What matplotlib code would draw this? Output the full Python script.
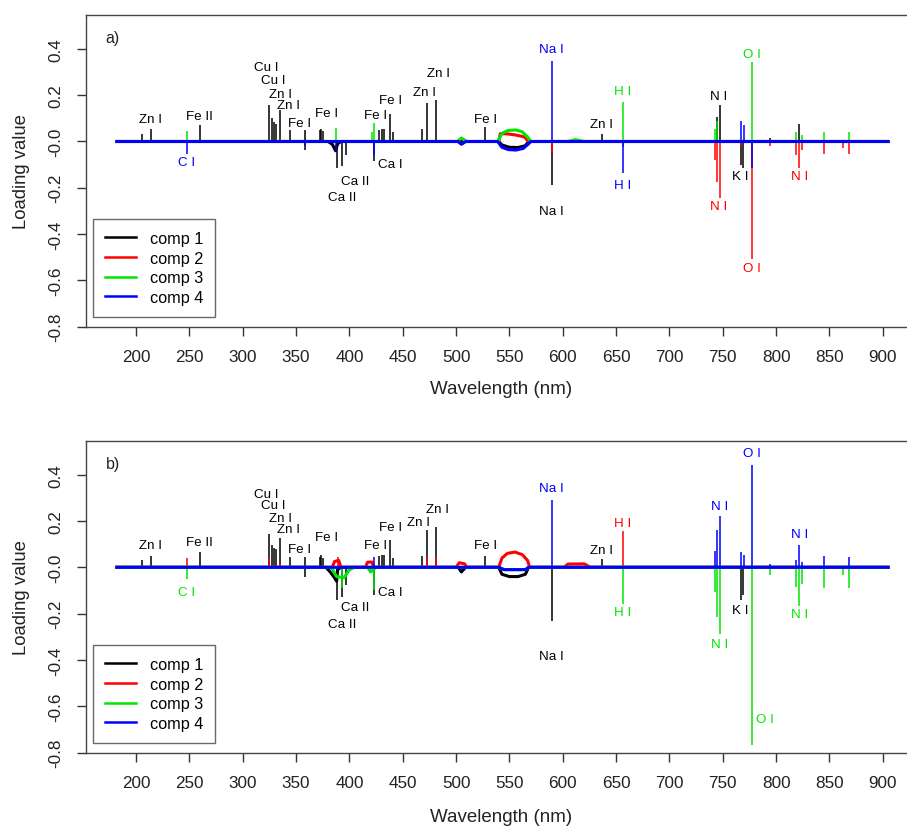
import numpy as np
import matplotlib
matplotlib.use("Agg")
import matplotlib.pyplot as plt
from matplotlib.lines import Line2D

plt.rcParams['font.family'] = ['Liberation Sans', 'DejaVu Sans']
plt.rcParams['axes.unicode_minus'] = False

comp_names = ['comp 1', 'comp 2', 'comp 3', 'comp 4']
comp_colors = ['#000000', '#ff0000', '#00e600', '#0000ff']

wl_start, wl_end = 182, 905

# --- panel a: slowly varying baselines (wavelength, loading) ---
a_base_comp1 = [(182, 0), (380, 0), (384, -0.012), (387, -0.04), (389, -0.01), (392, 0),
                (540, 0), (543, -0.015), (550, -0.025), (558, -0.026), (565, -0.018), (568, 0), (905, 0)]
a_base_comp2 = [(182, 0), (502, 0), (505, -0.01), (509, 0), (540, 0), (541.5, 0.034), (548, 0.033),
                (556, 0.028), (564, 0.02), (568, 0), (905, 0)]
a_base_comp3 = [(182, 0), (501, 0), (505, 0.015), (510, 0), (539, 0), (543, 0.035), (549, 0.048),
                (556, 0.05), (562, 0.042), (567, 0.02), (570, 0), (605, 0), (612, 0.008), (620, 0), (905, 0)]
a_base_comp4 = [(182, 0), (502, 0), (505, -0.012), (509, 0), (539, 0), (543, -0.025), (549, -0.035),
                (556, -0.037), (563, -0.03), (568, -0.01), (570, 0), (905, 0)]

# --- panel a: emission line loadings (wavelength, loading) ---
a_peaks_comp1 = [(206, 0.034), (214, 0.056), (260, 0.07), (324.7, 0.156), (327.4, 0.103), (329, 0.085),
                 (331, 0.077), (334.8, 0.135), (344.6, 0.049), (358.1, 0.049), (358.6, -0.037),
                 (372.5, 0.05), (373.7, 0.056), (375, 0.045), (388.4, -0.116), (392.8, -0.108),
                 (396.6, -0.059), (422.9, -0.083), (427.5, 0.049), (430.5, 0.052), (432.5, 0.052),
                 (438.2, 0.12), (440.6, 0.042), (468.5, 0.056), (472.6, 0.166), (481.3, 0.181),
                 (527.5, 0.063), (589.7, -0.188), (636.6, 0.034), (744.3, 0.106), (747.5, 0.156),
                 (766.8, -0.10), (769.3, -0.116), (794.4, 0.015), (821.8, 0.077)]
a_peaks_comp2 = [(335, 0.01), (589.7, -0.05), (656.3, -0.023), (742.8, -0.08), (744.3, -0.173),
                 (747.5, -0.245), (767, -0.02), (777.5, -0.51), (794.4, -0.02), (818.7, -0.059),
                 (821.8, -0.116), (824, -0.037), (845, -0.052), (862.5, -0.03), (868.4, -0.052)]
a_peaks_comp3 = [(248, 0.047), (387.5, 0.06), (421, 0.04), (423, 0.08), (656.3, 0.171), (742.8, 0.056),
                 (744.3, 0.09), (777.5, 0.343), (818.7, 0.039), (824, 0.03), (845, 0.042), (868.4, 0.039)]
a_peaks_comp4 = [(248, -0.052), (358, -0.02), (387, -0.04), (422.6, -0.06), (589.7, 0.35),
                 (656.3, -0.138), (766.8, 0.088), (770.2, 0.073), (777.5, -0.116)]

# --- panel b ---
b_base_comp1 = [(182, 0), (378, 0), (382, -0.02), (386, -0.045), (388, -0.06), (389, -0.01), (392, 0),
                (502, 0), (505, -0.02), (509, 0), (540, 0), (543, -0.03), (550, -0.04), (558, -0.04),
                (565, -0.03), (568, 0), (905, 0)]
b_base_comp2 = [(182, 0), (384, 0), (386, 0.025), (390, 0.03), (392, 0), (415, 0), (417, 0.022),
                (421, 0.023), (423, 0), (500, 0), (503, 0.02), (508, 0.015), (510, 0), (540, 0),
                (543, 0.04), (548, 0.06), (555, 0.066), (562, 0.055), (567, 0.03), (569, 0),
                (601, 0), (605, 0.014), (620, 0.015), (626, 0), (905, 0)]
b_base_comp3 = [(182, 0), (383, 0), (388, -0.04), (395, -0.045), (400, -0.01), (405, 0), (417, 0),
                (420, -0.02), (425, 0), (540, 0), (545, -0.01), (565, -0.01), (568, 0), (905, 0)]
b_base_comp4 = [(182, 0), (540, 0), (545, -0.01), (565, -0.01), (568, 0), (905, 0)]

b_peaks_comp1 = [(206, 0.03), (214, 0.049), (260, 0.066), (324.7, 0.145), (327.4, 0.098), (329, 0.084),
                 (331, 0.078), (334.8, 0.128), (344.6, 0.045), (358.1, 0.045), (358.6, -0.041),
                 (372.5, 0.045), (373.7, 0.052), (375, 0.04), (388.4, -0.142), (392.8, -0.128),
                 (396.6, -0.075), (422.9, -0.121), (427.5, 0.049), (430.5, 0.052), (432.5, 0.052),
                 (438.2, 0.12), (440.6, 0.04), (468.5, 0.049), (472.6, 0.16), (481.3, 0.174),
                 (527.5, 0.049), (589.7, -0.233), (636.6, 0.038), (766.8, -0.142), (769.3, -0.121)]
b_peaks_comp2 = [(248, 0.042), (324.7, 0.04), (334.8, 0.02), (389.5, 0.045), (472.6, 0.045),
                 (481.3, 0.045), (656.3, 0.155)]
b_peaks_comp3 = [(248, -0.049), (393.4, -0.09), (422.9, -0.099), (656.3, -0.157), (742.8, -0.106),
                 (744.3, -0.214), (747.5, -0.286), (777.5, -0.768), (794.4, -0.035), (818.7, -0.085),
                 (821.8, -0.165), (824, -0.07), (845, -0.089), (862.5, -0.035), (868.4, -0.089)]
b_peaks_comp4 = [(422.6, 0.045), (589.7, 0.289), (742.8, 0.069), (744.3, 0.16), (747.5, 0.222),
                 (766.8, 0.066), (770.2, 0.052), (777.5, 0.443), (794.4, 0.015), (818.7, 0.03),
                 (821.8, 0.095), (824, 0.025), (845, 0.047), (868.4, 0.045)]

# line labels: (text, wavelength, loading, component index)
a_labels = [('Zn I', 213.1, 0.099, 0), ('Fe II', 259.3, 0.109, 0), ('C I', 247.5, -0.088, 3),
            ('Cu I', 321.9, 0.324, 0), ('Cu I', 328.7, 0.267, 0), ('Zn I', 335.7, 0.206, 0),
            ('Zn I', 342.8, 0.159, 0), ('Fe I', 353.1, 0.082, 0), ('Fe I', 378.8, 0.125, 0),
            ('Ca II', 405.3, -0.171, 0), ('Ca II', 392.8, -0.241, 0), ('Fe I', 424.7, 0.116, 0),
            ('Fe I', 438.8, 0.178, 0), ('Ca I', 438.8, -0.099, 0), ('Zn I', 470.0, 0.216, 0),
            ('Zn I', 483.4, 0.295, 0), ('Fe I', 527.2, 0.097, 0), ('Na I', 589.7, 0.40, 3),
            ('Na I', 589.7, -0.30, 0), ('Zn I', 636.0, 0.075, 0), ('H I', 656.3, 0.218, 2),
            ('H I', 656.3, -0.189, 3), ('N I', 746.5, 0.197, 0), ('N I', 746.5, -0.281, 1),
            ('K I', 766.2, -0.149, 0), ('O I', 777.2, 0.379, 2), ('O I', 777.2, -0.546, 1),
            ('N I', 821.8, -0.149, 1)]
b_labels = [('Zn I', 213.1, 0.095, 0), ('Fe II', 259.3, 0.11, 0), ('C I', 247.5, -0.106, 2),
            ('Cu I', 321.9, 0.318, 0), ('Cu I', 328.7, 0.268, 0), ('Zn I', 335.7, 0.213, 0),
            ('Zn I', 342.8, 0.164, 0), ('Fe I', 353.1, 0.081, 0), ('Fe I', 378.8, 0.131, 0),
            ('Ca II', 405.3, -0.171, 0), ('Ca II', 392.8, -0.243, 0), ('Fe I', 424.7, 0.095, 0),
            ('Fe I', 438.8, 0.174, 0), ('Ca I', 438.8, -0.106, 0), ('Zn I', 464.6, 0.196, 0),
            ('Zn I', 482.4, 0.253, 0), ('Fe I', 527.2, 0.095, 0), ('Na I', 589.7, 0.343, 3),
            ('Na I', 589.7, -0.382, 0), ('Zn I', 636.0, 0.073, 0), ('H I', 656.3, 0.193, 1),
            ('H I', 656.3, -0.195, 2), ('N I', 746.8, 0.265, 3), ('N I', 746.8, -0.333, 2),
            ('K I', 766.2, -0.183, 0), ('O I', 777.2, 0.495, 3), ('O I', 789.7, -0.656, 2),
            ('N I', 821.8, 0.145, 3), ('N I', 821.8, -0.203, 2)]

panels = [
    ('a)', [a_base_comp1, a_base_comp2, a_base_comp3, a_base_comp4],
     [a_peaks_comp1, a_peaks_comp2, a_peaks_comp3, a_peaks_comp4], a_labels),
    ('b)', [b_base_comp1, b_base_comp2, b_base_comp3, b_base_comp4],
     [b_peaks_comp1, b_peaks_comp2, b_peaks_comp3, b_peaks_comp4], b_labels),
]

W, H = 907, 829
fig = plt.figure(figsize=(W / 100, H / 100), dpi=100)
fig.patch.set_facecolor('white')

# left, top, bottom of each plot box and top of its x label, in pixels
axes_px = [(86, 16, 327.5, 381), (86, 441.7, 753.5, 809)]
pad = 0.04 * (wl_end - wl_start)
xlim = (wl_start - pad, wl_end + pad)
px_per_nm = 746.7 / 700.0

for (tag, bases, peaks, labels), (left, top, bottom, xlab_top) in zip(panels, axes_px):
    width_px = (xlim[1] - xlim[0]) * px_per_nm
    height_px = bottom - top
    ax = fig.add_axes([left / W, (H - bottom) / H, width_px / W, height_px / H])
    ax.set_xlim(*xlim)
    ax.set_ylim(-0.8, 0.547)

    for i in range(4):
        bx = [p[0] for p in bases[i]]
        by = [p[1] for p in bases[i]]
        ax.plot(bx, by, color=comp_colors[i], lw=2.2, solid_joinstyle='round', zorder=2 + i)
        pk_x = [p[0] for p in peaks[i]]
        pk_y = [p[1] for p in peaks[i]]
        ax.vlines(pk_x, 0, pk_y, color=comp_colors[i], lw=1.1, zorder=2 + i)

    for txt, x, y, ci in labels:
        ax.text(x, y, txt, color=comp_colors[ci], fontsize=9.6, ha='center', va='center', zorder=10)

    ax.text(178.2, 0.45, tag, fontsize=11.5, ha='center', va='center', color='#222222')

    ax.set_xticks(np.arange(200, 901, 50))
    ax.set_yticks(np.arange(-0.8, 0.41, 0.2))
    ax.set_yticklabels(['%.1f' % v for v in np.arange(-0.8, 0.41, 0.2)], rotation=90, va='center')
    ax.tick_params(axis='both', direction='out', length=6.5, width=1.0, color='#333333',
                   labelsize=12.3, labelcolor='#222222')
    ax.tick_params(axis='x', pad=9.5)
    ax.tick_params(axis='y', pad=10)
    for s in ax.spines.values():
        s.set_color('#444444')
        s.set_linewidth(1.0)

    ax.set_xlabel('Wavelength (nm)', fontsize=13.5, color='#222222')
    ax.set_ylabel('Loading value', fontsize=13.3, color='#222222')
    ax.xaxis.set_label_coords((501 - left) / width_px, -(xlab_top - bottom) / height_px)
    ax.yaxis.set_label_coords(-(left - 30) / width_px, 0.5)

    handles = [Line2D([0], [0], color=c, lw=1.8) for c in comp_colors]
    leg = ax.legend(handles, comp_names, loc='lower left',
                    bbox_to_anchor=((93 - left) / width_px, 9.5 / height_px),
                    borderaxespad=0, fontsize=11.7, frameon=True, fancybox=False,
                    handlelength=1.9, handletextpad=0.85, labelspacing=0.28, borderpad=0.75)
    leg.get_frame().set_edgecolor('#444444')
    leg.get_frame().set_linewidth(1.0)

fig.savefig('out.png', dpi=100, facecolor='white')
